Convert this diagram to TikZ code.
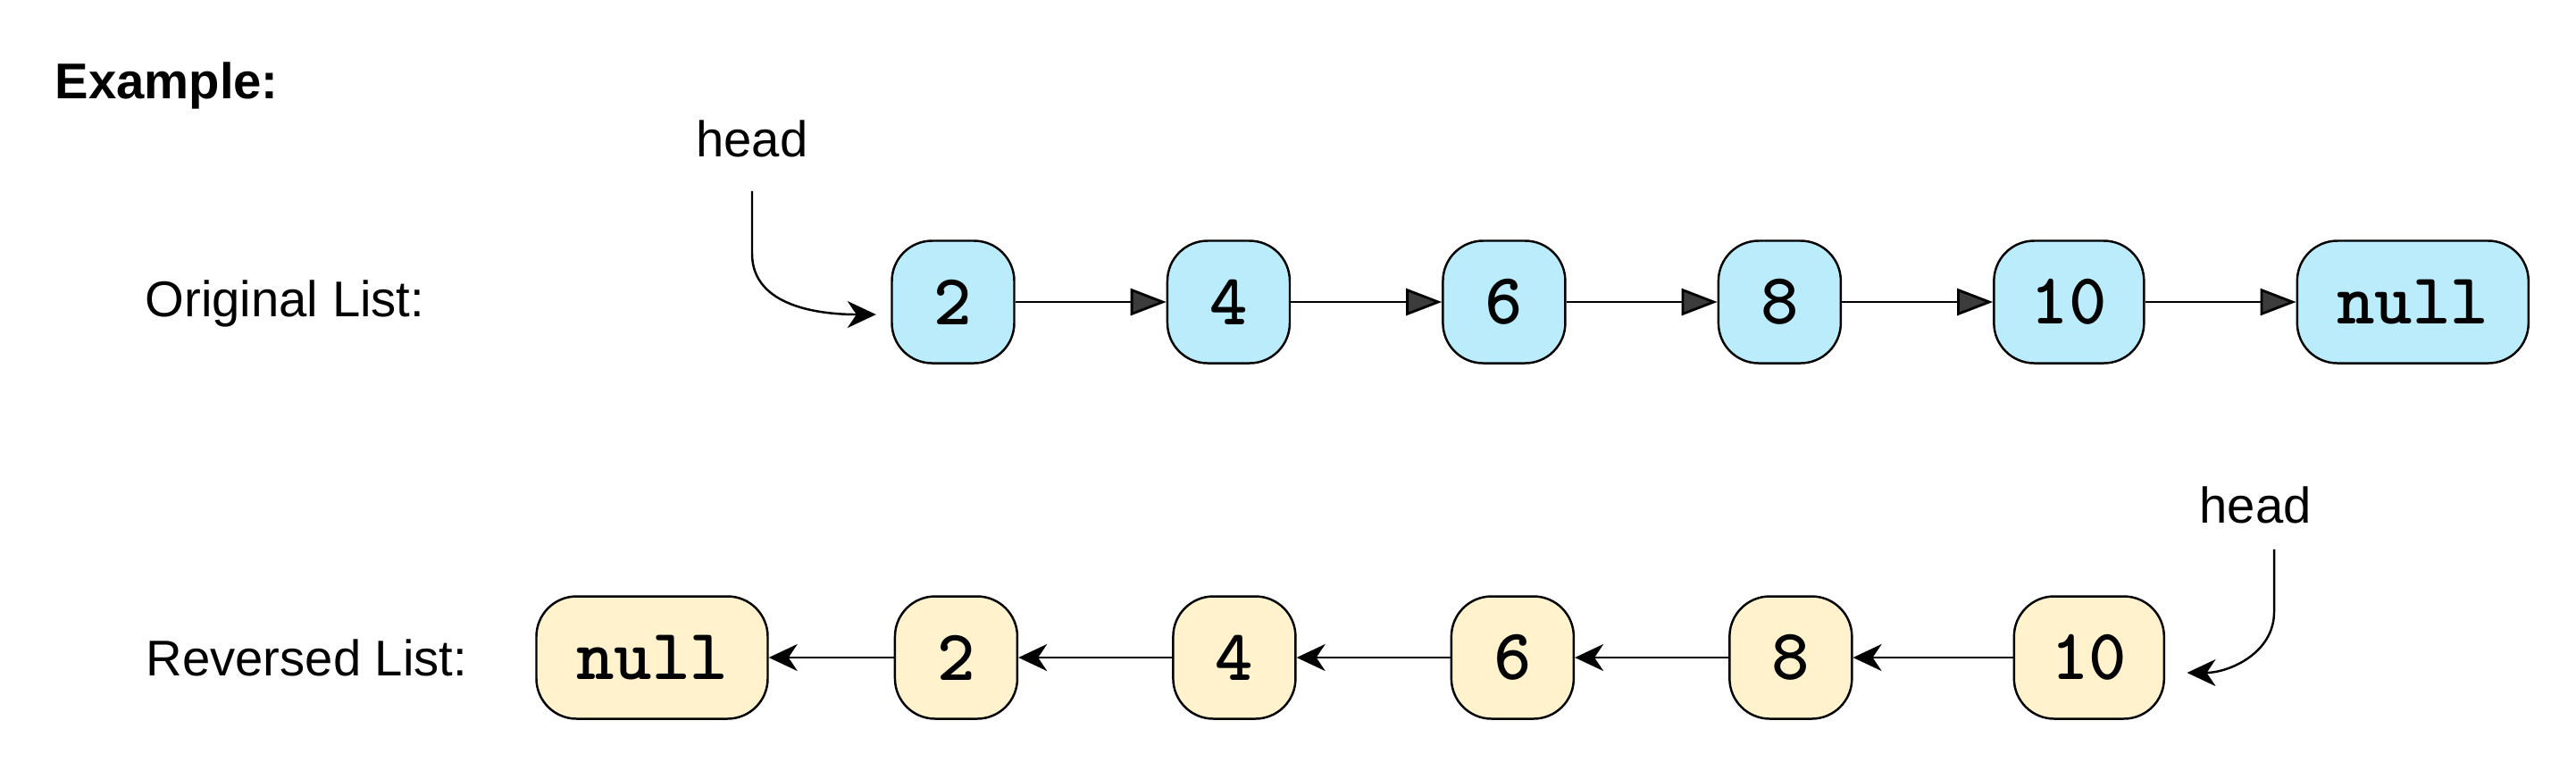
\documentclass[tikz,border=0pt]{standalone}
\usepackage{fontspec}
\setmainfont{Liberation Sans}
\usepackage{tikz}
\usetikzlibrary{arrows.meta, positioning}

\definecolor{origfill}{RGB}{187,236,252}
\definecolor{revfill}{RGB}{255,242,204}
\definecolor{tipgray}{RGB}{60,60,60}

\begin{document}
\begin{tikzpicture}[
    node distance=1.69cm,
    cell/.style   = {rectangle, draw, line width=0.7pt, rounded corners=0.45cm,
                     minimum width=1.37cm, minimum height=1.37cm, inner sep=0pt,
                     font=\ttfamily\bfseries\fontsize{23}{26}\selectfont, fill=origfill},
    rcell/.style  = {cell, fill=revfill},
    mid/.style    = {minimum width=1.68cm},
    wide/.style   = {minimum width=2.59cm},
    lbl/.style    = {font=\fontsize{16}{19}\selectfont, inner sep=0pt},
    title/.style  = {lbl, font=\bfseries\fontsize{16}{19}\selectfont},
    fwd/.style    = {-{Triangle[length=0.4cm, width=0.3cm, fill=tipgray]}, line width=0.8pt},
    back/.style   = {-{Stealth[length=0.32cm, width=0.3cm, inset=0.1cm]}, line width=0.8pt},
    ptr/.style    = {back, line width=0.7pt}
]
\useasboundingbox (0,0) rectangle (28.84,-8.62);

% ========= headings =========
\node[title, anchor=west] (ex)   at (0.61,-0.96) {Example:};
\node[lbl, anchor=west]   (orig) at (1.62,-3.40) {Original List:};
\node[lbl, anchor=west]   (rev)  at (1.63,-7.36) {Reversed List:};

% ========= original list =========
\node[cell]               (o2)    at (10.67,-3.38) {2};
\node[cell, right=of o2]  (o4)    {4};
\node[cell, right=of o4]  (o6)    {6};
\node[cell, right=of o6]  (o8)    {8};
\node[cell, mid, right=of o8]   (o10)   {10};
\node[cell, wide, right=of o10] (onull) {null};

\draw[fwd] (o2)  -- (o4);
\draw[fwd] (o4)  -- (o6);
\draw[fwd] (o6)  -- (o8);
\draw[fwd] (o8)  -- (o10);
\draw[fwd] (o10) -- (onull);

\node[lbl] (headA) at (8.42,-1.55) {head};
\coordinate (tipA) at ([xshift=-0.165cm, yshift=-0.14cm]o2.west);
\draw[ptr] ([yshift=-0.375cm]headA.south) -- ++(0,-0.7) to[out=-90, in=180] (tipA);

% ========= reversed list =========
\node[rcell, wide]               (rnull) at (7.30,-7.36) {null};
\node[rcell, right=1.40cm of rnull] (r2) {2};
\node[rcell, right=1.72cm of r2]    (r4) {4};
\node[rcell, right=1.72cm of r4]    (r6) {6};
\node[rcell, right=1.72cm of r6]    (r8) {8};
\node[rcell, mid, right=1.79cm of r8] (r10) {10};

\draw[back] (r2)  -- (rnull);
\draw[back] (r4)  -- (r2);
\draw[back] (r6)  -- (r4);
\draw[back] (r8)  -- (r6);
\draw[back] (r10) -- (r8);

\node[lbl] (headB) at (25.25,-5.65) {head};
\coordinate (tipB) at ([xshift=0.245cm, yshift=-0.17cm]r10.east);
\draw[ptr] ([xshift=0.21cm, yshift=-0.285cm]headB.south) -- ++(0,-0.7) to[out=-90, in=0] (tipB);

\end{tikzpicture}
\end{document}
